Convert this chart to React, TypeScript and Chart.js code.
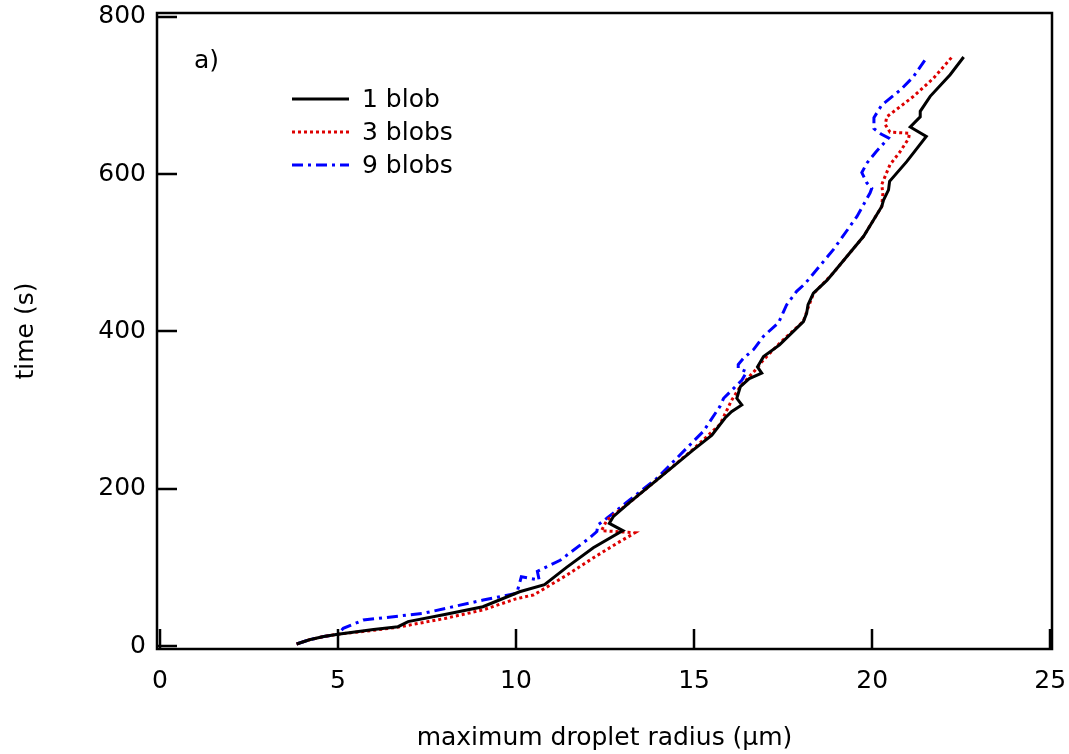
import React, { useEffect, useRef } from "react";
import { Chart, registerables } from "chart.js";

Chart.register(...registerables);

const xTicks = [0, 5, 10, 15, 20, 25];
const yTicks = [0, 200, 400, 600, 800];

const seriesLabels = ["1 blob", "3 blobs", "9 blobs"];

const blob1R = [3.84, 4.2, 4.6, 5.0, 6.0, 6.69, 6.97, 8.0, 9.07, 10.1, 10.8, 11.42, 12.17, 13.0, 12.62, 12.73, 13.2, 13.95, 14.97, 15.5, 15.87, 16.05, 16.34, 16.2, 16.3, 16.55, 16.9, 16.78, 16.95, 17.4, 18.07, 18.16, 18.2, 18.35, 18.73, 18.9, 19.76, 20.27, 20.32, 20.46, 20.49, 20.97, 21.52, 21.07, 21.35, 21.35, 21.63, 22.19, 22.57];
const blob1T = [2.5, 8, 12, 15, 21, 24.6, 31, 40, 50, 69, 78, 100, 125, 146.7, 156, 164.5, 183, 211, 249, 268, 290, 298, 306.6, 315, 330, 340, 347, 355, 368, 383, 412.6, 423, 434, 448.7, 465, 474, 521, 559, 567, 580, 591, 616, 648, 660, 673, 680, 699, 726.5, 749];

const blob3R = [3.84, 4.2, 4.6, 5.0, 6.0, 6.69, 8.0, 9.08, 10.0, 10.5, 11.42, 12.2, 12.85, 13.34, 12.4, 12.55, 13.2, 13.95, 14.97, 15.73, 16.06, 16.3, 16.76, 16.95, 17.4, 18.07, 18.2, 18.35, 18.9, 19.76, 20.27, 20.3, 20.27, 20.5, 20.79, 21.02, 21.05, 20.5, 20.37, 20.41, 20.79, 21.16, 21.72, 22.24];
const blob3T = [2.5, 8, 12, 15, 20, 24, 35, 46, 60, 65, 90, 113, 131, 144, 146.7, 160, 183, 211, 250, 282, 313, 330, 353, 364, 385, 413, 430, 448, 474, 521, 559, 575, 587, 612, 629, 645, 652, 653.5, 663, 673, 686, 699, 722, 749];

const blob9R = [3.84, 4.2, 4.6, 5.0, 5.15, 5.71, 7.4, 9.08, 10.02, 10.15, 10.65, 10.6, 11.24, 12.08, 12.27, 12.3, 12.55, 13.2, 13.95, 15.26, 15.73, 15.83, 16.34, 16.48, 16.24, 16.24, 16.39, 16.67, 16.95, 17.37, 17.51, 17.6, 17.88, 18.12, 18.91, 19.57, 19.94, 19.99, 19.85, 19.71, 19.85, 20.1, 20.46, 20.25, 20.05, 20.05, 20.27, 20.79, 21.16, 21.54];
const blob9T = [2.5, 8, 12, 15, 22.5, 33, 41.6, 58.5, 67, 88, 84, 95, 109, 138, 145.5, 154, 162.5, 186, 213, 273, 305, 315, 338, 349, 353, 358, 366, 377, 394, 411, 425, 434, 451, 461, 504, 546, 576, 582, 589, 602, 614, 628, 646, 651, 658, 672, 688, 707, 724, 749];

const FONT = "'DejaVu Sans', 'Liberation Sans', sans-serif";

export default function App() {
  const ref = useRef<HTMLCanvasElement>(null);

  useEffect(() => {
    const canvas = ref.current;
    if (!canvas) return;
    const toPts = (r: number[], t: number[]) => r.map((v, i) => ({ x: v, y: t[i] }));

    const framePlugin = {
      id: "frameAndLegend",
      afterDraw(chart: any) {
        const { ctx, chartArea: a, scales } = chart;
        ctx.save();
        ctx.strokeStyle = "#000";
        ctx.lineWidth = 2.5;
        ctx.setLineDash([]);
        ctx.strokeRect(a.left, a.top, a.right - a.left, a.bottom - a.top);
        ctx.beginPath();
        xTicks.forEach((v) => {
          const px = Math.round(scales.x.getPixelForValue(v));
          ctx.moveTo(px, a.bottom);
          ctx.lineTo(px, a.bottom - 20);
        });
        yTicks.forEach((v) => {
          const py = Math.round(scales.y.getPixelForValue(v));
          ctx.moveTo(a.left, py);
          ctx.lineTo(a.left + 20, py);
        });
        ctx.stroke();

        ctx.font = `25px ${FONT}`;
        ctx.fillStyle = "#000";
        ctx.textBaseline = "middle";
        ctx.textAlign = "left";
        ctx.fillText("a)", a.left + 37, a.top + 48);

        chart.data.datasets.forEach((ds: any, i: number) => {
          const y = a.top + 86 + i * 33;
          ctx.beginPath();
          ctx.setLineDash(ds.borderDash || []);
          ctx.strokeStyle = ds.borderColor;
          ctx.lineWidth = ds.borderWidth;
          ctx.moveTo(a.left + 135, y);
          ctx.lineTo(a.left + 192, y);
          ctx.stroke();
          ctx.setLineDash([]);
          ctx.fillStyle = "#000";
          ctx.fillText(ds.label, a.left + 205, y + 1);
        });
        ctx.restore();
      },
    };

    const tickFont = { family: FONT, size: 25 };
    const zeroPad = (s: any) => {
      s.paddingTop = 0;
      s.paddingBottom = 0;
      s.paddingLeft = 0;
      s.paddingRight = 0;
    };

    const chart = new Chart(canvas, {
      type: "line",
      data: {
        datasets: [
          {
            label: seriesLabels[0],
            data: toPts(blob1R, blob1T),
            borderColor: "#000000",
            borderWidth: 3,
            borderDash: [],
          },
          {
            label: seriesLabels[1],
            data: toPts(blob3R, blob3T),
            borderColor: "#dd0000",
            borderWidth: 3,
            borderDash: [3, 3],
          },
          {
            label: seriesLabels[2],
            data: toPts(blob9R, blob9T),
            borderColor: "#0000ff",
            borderWidth: 3,
            borderDash: [11, 5, 3, 5],
          },
        ] as any,
      },
      plugins: [framePlugin],
      options: {
        responsive: false,
        animation: false,
        layout: { padding: { top: 13, right: 17, left: 0, bottom: 0 } },
        plugins: { legend: { display: false }, tooltip: { enabled: false } },
        elements: {
          point: { radius: 0, hoverRadius: 0 },
          line: { tension: 0, fill: false, borderCapStyle: "butt" },
        },
        scales: {
          x: {
            type: "linear",
            min: -0.08,
            max: 25.05,
            afterBuildTicks: (s: any) => {
              s.ticks = xTicks.map((v) => ({ value: v }));
            },
            afterFit: (s: any) => {
              s.height = 105;
              zeroPad(s);
            },
            grid: { display: false, drawTicks: false },
            border: { display: false },
            ticks: { font: tickFont, color: "#000", padding: 17, maxRotation: 0, autoSkip: false },
            title: {
              display: true,
              text: "maximum droplet radius (μm)",
              font: tickFont,
              color: "#000",
              padding: { top: 0, bottom: 1 },
            },
          },
          y: {
            type: "linear",
            min: -3.8,
            max: 805,
            afterBuildTicks: (s: any) => {
              s.ticks = yTicks.map((v) => ({ value: v }));
            },
            afterFit: (s: any) => {
              s.width = 157;
              zeroPad(s);
            },
            grid: { display: false, drawTicks: false },
            border: { display: false },
            ticks: { font: tickFont, color: "#000", padding: 11, autoSkip: false },
            title: {
              display: true,
              text: "time (s)",
              font: tickFont,
              color: "#000",
              padding: { top: 11, bottom: 0 },
            },
          },
        },
      } as any,
    });

    return () => chart.destroy();
  }, []);

  return (
    <div style={{ position: "fixed", left: 0, top: 0, width: 1069, height: 754, background: "#fff" }}>
      <canvas ref={ref} width={1069} height={754} style={{ display: "block" }} />
    </div>
  );
}
